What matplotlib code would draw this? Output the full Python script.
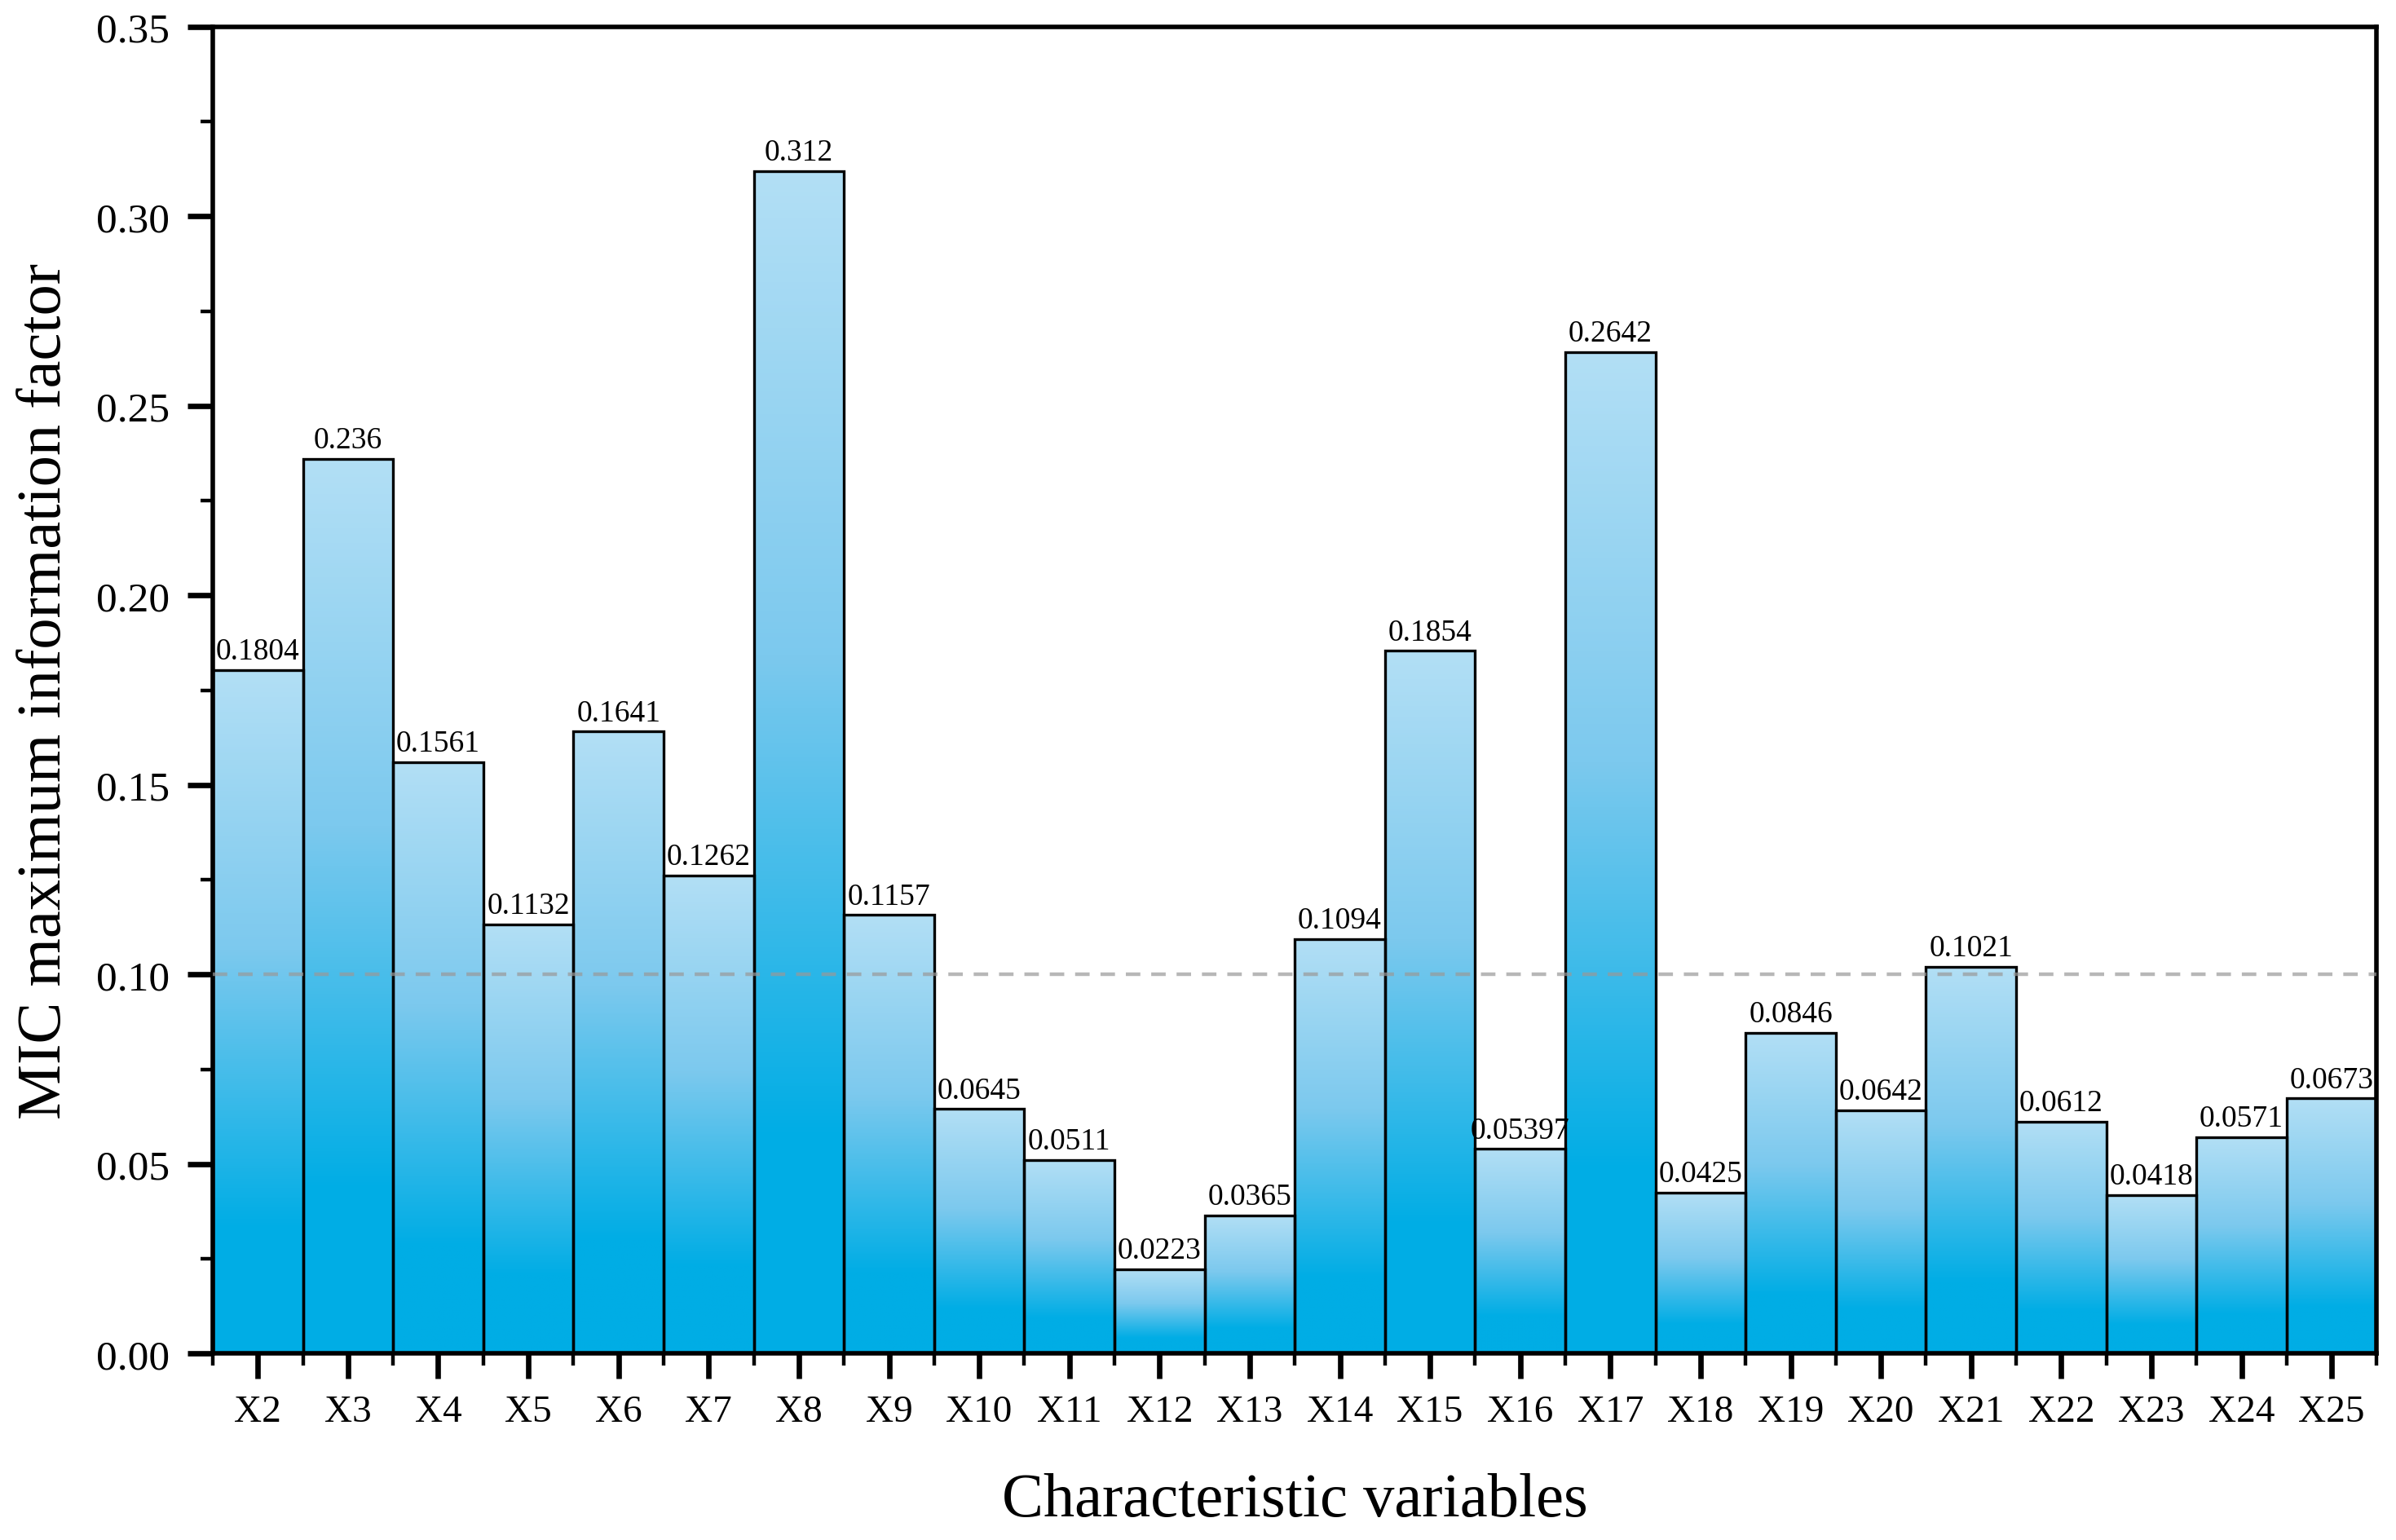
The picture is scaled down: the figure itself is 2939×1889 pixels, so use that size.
import numpy as np
import matplotlib.pyplot as plt
from matplotlib.colors import LinearSegmentedColormap
from matplotlib.ticker import MultipleLocator

plt.rcParams['font.family'] = ['Liberation Serif', 'DejaVu Serif']

# data
variables = ['X2', 'X3', 'X4', 'X5', 'X6', 'X7', 'X8', 'X9', 'X10', 'X11', 'X12', 'X13',
             'X14', 'X15', 'X16', 'X17', 'X18', 'X19', 'X20', 'X21', 'X22', 'X23', 'X24', 'X25']
mic = [0.1804, 0.236, 0.1561, 0.1132, 0.1641, 0.1262, 0.312, 0.1157, 0.0645, 0.0511, 0.0223, 0.0365,
       0.1094, 0.1854, 0.05397, 0.2642, 0.0425, 0.0846, 0.0642, 0.1021, 0.0612, 0.0418, 0.0571, 0.0673]
threshold = 0.10

fig = plt.figure(figsize=(14.695, 9.45), dpi=200)
ax = fig.add_axes([0.0888, 0.121, 0.9032, 0.861])

x = np.arange(len(variables))

# vertical gradient inside each bar: light at the top, saturated blue at the bottom
cmap = LinearSegmentedColormap.from_list('mic', ['#B2DFF5', '#7CC9EE', '#00ADE5'])
t = np.linspace(0, 1, 256)
grad = np.clip(t / 0.82, 0, 1).reshape(-1, 1)
for xi, h in zip(x, mic):
    ax.imshow(grad, cmap=cmap, vmin=0, vmax=1, aspect='auto', origin='upper',
              extent=(xi - 0.5, xi + 0.5, 0, h), zorder=2, interpolation='bilinear')

ax.bar(x, mic, width=1.0, facecolor='none', edgecolor='black', linewidth=1.2, zorder=3)

for xi, h in zip(x, mic):
    ax.text(xi, h + 0.0012, str(h), ha='center', va='bottom', fontsize=13.5, zorder=5)

ax.axhline(threshold, color='#999999', alpha=0.7, linestyle=(0, (4, 3)), linewidth=1.6, zorder=4)

ax.set_xlim(-0.5, len(variables) - 0.5)
ax.set_ylim(0, 0.35)
ax.set_xticks(x)
ax.set_xticklabels(variables)
ax.set_xticks(np.arange(-0.5, len(variables), 1.0), minor=True)
ax.yaxis.set_major_locator(MultipleLocator(0.05))
ax.yaxis.set_minor_locator(MultipleLocator(0.025))
ax.yaxis.set_major_formatter(plt.FormatStrFormatter('%.2f'))

ax.tick_params(axis='both', which='major', direction='out', length=11, width=2.4)
ax.tick_params(axis='both', which='minor', direction='out', length=5.5, width=1.6)
ax.tick_params(axis='x', which='major', labelsize=17, pad=7)
ax.tick_params(axis='y', which='major', labelsize=18.5, pad=8)
for s in ax.spines.values():
    s.set_linewidth(2)

ax.set_xlabel('Characteristic variables', fontsize=27.5, labelpad=19)
ax.set_ylabel('MIC maximum information factor', fontsize=27.5, labelpad=10)

fig.savefig('out.png', dpi=200)
